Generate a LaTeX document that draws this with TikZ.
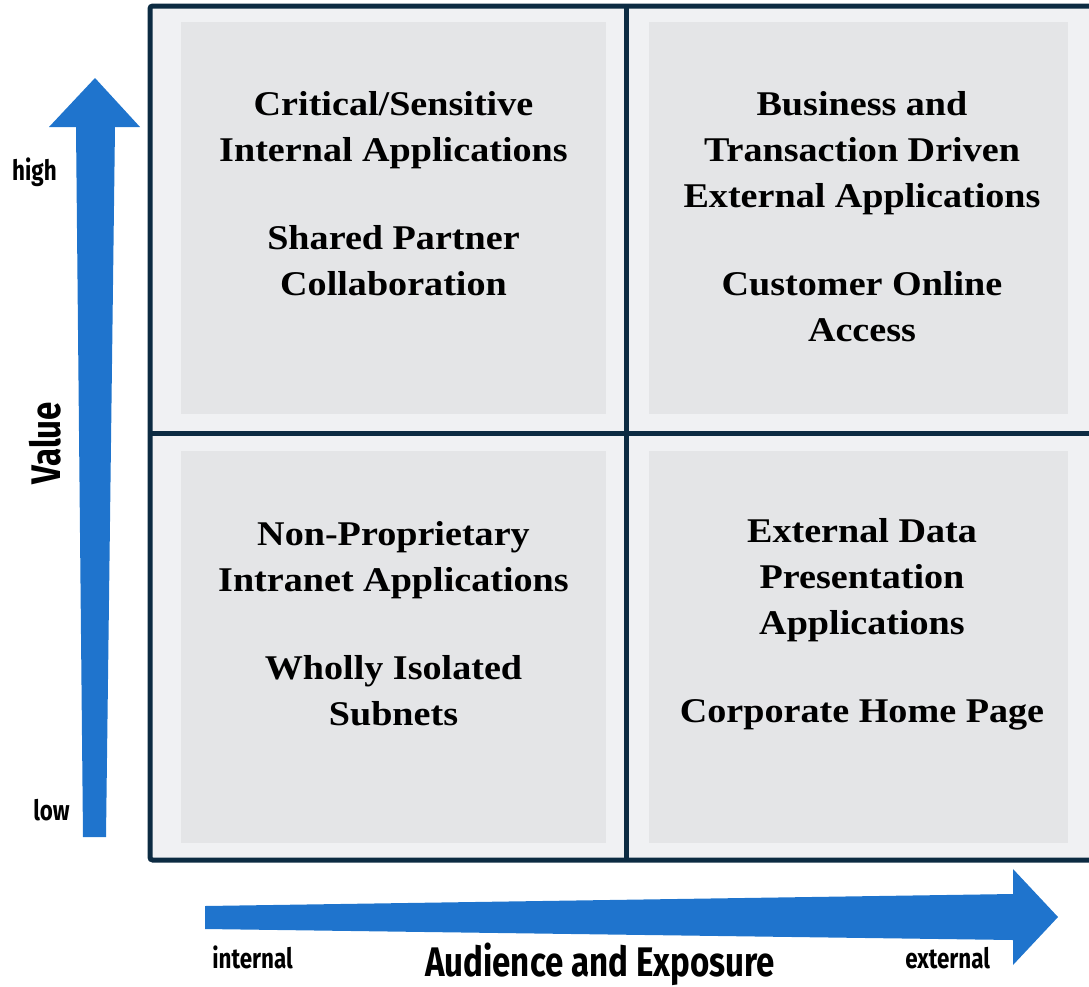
\documentclass[tikz,border=0pt]{standalone}
\usepackage{fontspec}
\newfontfamily\quadfont[FakeStretch=1.1]{Liberation Serif}
\newfontfamily\axisfont[FakeStretch=0.8]{Fira Sans}

\definecolor{axisblue}{HTML}{1F74CD}
\definecolor{framenavy}{HTML}{0C2B42}
\definecolor{framefill}{HTML}{F0F1F3}
\definecolor{cellgrey}{HTML}{E4E5E7}

\tikzset{
  quadtext/.style={font=\quadfont\bfseries\fontsize{26}{34.5}\selectfont,
    align=center, inner sep=0pt, anchor=north, text=black},
  smalllabel/.style={font=\axisfont\bfseries\fontsize{21}{25}\selectfont,
    inner sep=0pt, text=black},
  biglabel/.style={font=\axisfont\bfseries\fontsize{31}{36}\selectfont,
    inner sep=0pt, text=black},
  cell/.style={fill=cellgrey},
  gridline/.style={draw=framenavy, line width=3.75pt},
}

\begin{document}
\begin{tikzpicture}[x=0.75pt,y=-0.75pt]
  \useasboundingbox (0,0) rectangle (1089,986);
  \clip (0,0) rectangle (1089,986);

  % frame background and the four grey cells
  \fill[framefill] (150,6) rectangle (1100,860);
  \fill[cell] (181,22)  rectangle (606,414);
  \fill[cell] (649,22)  rectangle (1068,414);
  \fill[cell] (181,451) rectangle (606,843);
  \fill[cell] (649,451) rectangle (1068,843);

  % frame and dividing lines
  \draw[gridline, rounded corners=2pt] (150,6) rectangle (1100,860);
  \draw[gridline] (626,6) -- (626,860);
  \draw[gridline] (150,433) -- (1100,433);

  % vertical axis arrow (tapered shaft)
  \fill[axisblue] (83,837) -- (76,127) -- (49,127) -- (95,78)
    -- (140,127) -- (115,127) -- (106,837) -- cycle;

  % horizontal axis arrow (tapered shaft)
  \fill[axisblue] (205,906) -- (1013,894) -- (1013,869) -- (1058,917)
    -- (1013,965) -- (1013,940) -- (205,929) -- cycle;

  % quadrant texts
  \node[quadtext] (tl) at (393.5,91)
    {Critical/Sensitive\\Internal Applications\\[32pt]Shared Partner\\Collaboration};
  \node[quadtext] (tr) at (862,91)
    {Business and\\Transaction Driven\\External Applications\\[32pt]Customer Online\\Access};
  \node[quadtext] (bl) at (393.5,521)
    {Non-Proprietary\\Intranet Applications\\[32pt]Wholly Isolated\\Subnets};
  \node[quadtext] (br) at (862,518)
    {External Data\\Presentation\\Applications\\[32pt]Corporate Home Page};

  % axis labels
  \node[smalllabel, anchor=base east] (high) at (57,180) {high};
  \node[smalllabel, anchor=base east] (low) at (70,820) {low};
  \node[smalllabel, anchor=base west] (internal) at (212,968) {internal};
  \node[smalllabel, anchor=base west] (external) at (905,968) {external};
  \node[biglabel, anchor=base] (audience) at (600,976) {Audience and Exposure};
  \node[biglabel, anchor=base, rotate=90] (value) at (60,443) {Value};
\end{tikzpicture}
\end{document}
